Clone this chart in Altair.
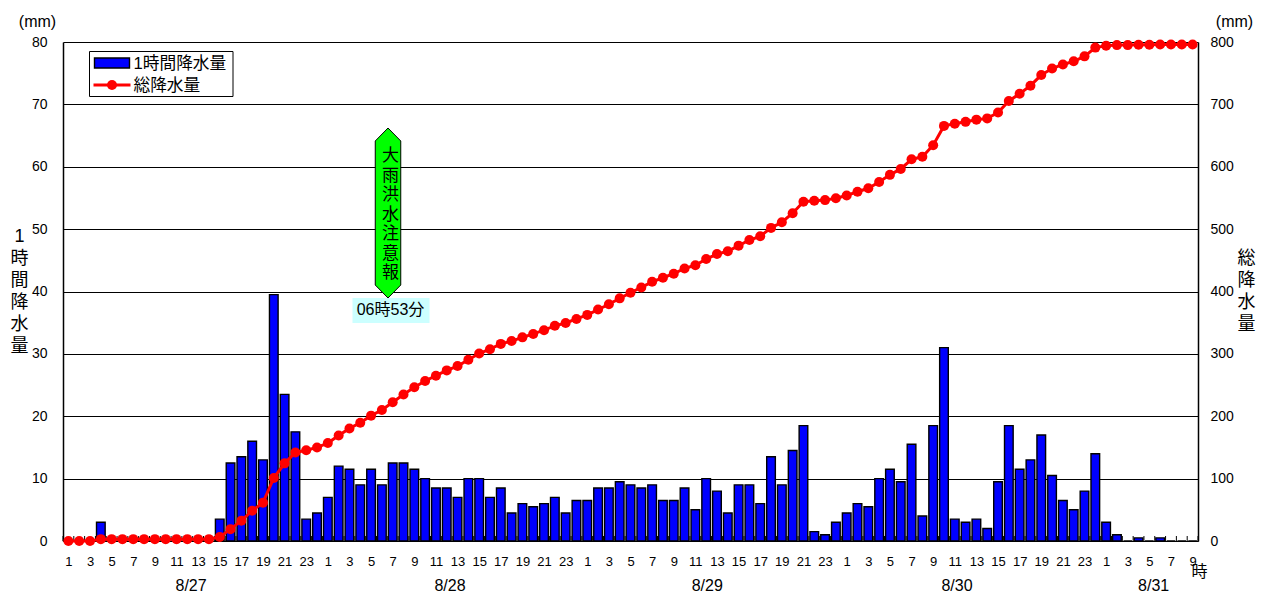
import altair as alt
import pandas as pd

hourly = [0,0,0,3,0,0,0,0,0,0,0,0,0,0,3.5,12.5,13.5,16,13,39.5,23.5,17.5,3.5,4.5,
          7,12,11.5,9,11.5,9,12.5,12.5,11.5,10,8.5,8.5,7,10,10,7,8.5,4.5,6,5.5,6,7,4.5,6.5,
          6.5,8.5,8.5,9.5,9,8.5,9,6.5,6.5,8.5,5,10,8,4.5,9,9,6,13.5,9,14.5,18.5,1.5,1,3,
          4.5,6,5.5,10,11.5,9.5,15.5,4,18.5,31,3.5,3,3.5,2,9.5,18.5,11.5,13,17,10.5,6.5,5,8,14,
          3,1,0,0.5,0,0.5,0,0,0]
total = [0,0,0,3,3,3,3,3,3,3,3,3,3,3,6.5,19,32.5,48.5,61.5,101,124.5,142,145.5,150,
         157,169,180.5,189.5,201,210,222.5,235,246.5,256.5,265,273.5,280.5,290.5,300.5,307.5,316,320.5,326.5,332,338,345,349.5,356,
         362.5,371,379.5,389,398,406.5,415.5,422,428.5,437,442,452,460,464.5,473.5,482.5,488.5,502,511,525.5,544,545.5,546.5,549.5,
         554,560,565.5,575.5,587,596.5,612,616,634.5,665.5,669,672,675.5,677.5,687,705.5,717,730,747,757.5,764,769,777,791,
         794,795,795,795.5,795.5,796,796,796,796]
dates = ["8/27", "8/28", "8/29", "8/30", "8/31"]
date_pos = [11.85, 35.8, 59.6, 82.7, 100.9]
legend_names = ["1時間降水量", "総降水量"]
warning_text = list("大雨洪水注意報")
warning_time = "06時53分"
left_title = list("1時間降水量")
right_title = list("総降水量")

W, H = 1135, 499
FONT = "Liberation Sans, Arial, Noto Sans CJK JP"
OX, OY = 63.5, 42  # page position of plot origin

def px(v): return alt.value(v - OX)
def py(v): return alt.value(v - OY)

n = len(hourly)
df = pd.DataFrame({
    "rain": hourly, "total": total,
    "x0": [i + 0.1 for i in range(n)],
    "x1": [i + 0.9 for i in range(n)],
    "xc": [i + 0.5 for i in range(n)],
    "base": [0] * n,
})
xs = alt.Scale(domain=[0, n], nice=False, zero=False)
one = pd.DataFrame({"a": [0]})

x_axis = alt.Axis(
    values=[i + 0.5 for i in range(0, n, 2)],
    labelExpr="((datum.value-0.5)%24)+1", title=None, tickSize=0, grid=False,
    labelFontSize=13, labelPadding=14, labelOverlap=False, labelFlush=False,
    domainColor="black", labelColor="black", labelFont=FONT)

ticks = alt.Chart(pd.DataFrame({"t": list(range(n + 1))})).mark_rule(color="black", strokeWidth=1).encode(
    x=alt.X("t:Q", scale=xs, axis=x_axis), y=alt.value(H), y2=alt.value(H - 5))

bars = alt.Chart(df).mark_rect(color="#0000ff", stroke="black", strokeWidth=1.4).encode(
    x=alt.X("x0:Q", scale=xs, axis=x_axis),
    x2="x1:Q",
    y=alt.Y("rain:Q", scale=alt.Scale(domain=[0, 80], nice=False), axis=alt.Axis(
        orient="left", values=list(range(0, 81, 10)), grid=True, gridColor="black", gridOpacity=1,
        tickSize=0, labelPadding=16, labelFontSize=14, labelColor="black", labelFont=FONT,
        domainColor="black", domainWidth=1.5,
        title=left_title, titleAngle=0, titleFont=FONT, titleFontSize=18, titleFontWeight="normal",
        titleLineHeight=22, titleX=-44, titleY=185.5, titleBaseline="top", titleAlign="center", titleColor="black")),
    y2="base:Q")

line = alt.Chart(df).mark_line(
    color="#ff0000", strokeWidth=3,
    point=alt.OverlayMarkDef(color="#ff0000", filled=True, size=100, opacity=1)).encode(
    x=alt.X("xc:Q", scale=xs, axis=x_axis),
    y=alt.Y("total:Q", scale=alt.Scale(domain=[0, 800], nice=False), axis=alt.Axis(
        orient="right", values=list(range(0, 801, 100)), grid=False,
        tickSize=0, labelPadding=12, labelFontSize=14, labelColor="black", labelFont=FONT,
        domainColor="black", domainWidth=1.5,
        title=right_title, titleAngle=0, titleFont=FONT, titleFontSize=18, titleFontWeight="normal",
        titleLineHeight=22, titleX=48, titleY=207, titleBaseline="top", titleAlign="center", titleColor="black")))

date_text = alt.Chart(pd.DataFrame({"d": dates, "p": date_pos})).mark_text(
    font=FONT, fontSize=16, color="black").encode(
    x=alt.X("p:Q", scale=xs, axis=x_axis), y=py(586), text="d:N")

def label(txt, x, y, size=14, align="center"):
    return alt.Chart(one).mark_text(text=txt, font=FONT, fontSize=size, color="black", align=align).encode(
        x=px(x), y=py(y))

# warning marker
W_TOP, W_BOT, W_X = 128, 298, 388.5
W_H = W_BOT - W_TOP
sw = 12.75 / (W_H / 2)
sh = 13 / (W_H / 2)
shape = f"M0,-1L{sw:.4f},{-1 + sh:.4f}L{sw:.4f},{1 - sh:.4f}L0,1L{-sw:.4f},{1 - sh:.4f}L{-sw:.4f},{-1 + sh:.4f}Z"
warn = alt.Chart(one).mark_point(shape=shape, size=W_H ** 2, filled=True, fill="#00ff00",
                                 stroke="black", strokeWidth=1, opacity=1).encode(
    x=px(W_X), y=py((W_TOP + W_BOT) / 2))
warn_txt = alt.Chart(one).mark_text(text=warning_text, font=FONT, fontSize=17, lineHeight=19.5,
                                    color="black", baseline="top", align="center").encode(
    x=px(391), y=py(148))
time_bg = alt.Chart(one).mark_rect(color="#ccffff").encode(
    x=px(353), x2=px(430), y=py(298), y2=py(323))
time_txt = label(warning_time, 391, 310, size=16)

# legend
lg_box = alt.Chart(one).mark_rect(fill="white", stroke="black", strokeWidth=1).encode(
    x=px(90), x2=px(233.5), y=py(51.5), y2=py(96.5))
lg_bar = alt.Chart(one).mark_rect(color="#0000ff", stroke="black", strokeWidth=1.4).encode(
    x=px(95), x2=px(130), y=py(58), y2=py(68))
lg_line = alt.Chart(one).mark_rule(color="#ff0000", strokeWidth=3).encode(
    x=px(94), x2=px(131), y=py(85))
lg_pt = alt.Chart(one).mark_point(color="#ff0000", filled=True, size=100, opacity=1).encode(
    x=px(112.5), y=py(85))
lg_t1 = label(legend_names[0], 134, 64, size=16.7, align="left")
lg_t2 = label(legend_names[1], 134, 86, size=16.7, align="left")

chart = alt.layer(
    bars, ticks, line, date_text,
    time_bg, warn, warn_txt, time_txt,
    lg_box, lg_bar, lg_line, lg_pt, lg_t1, lg_t2,
    label("(mm)", 38, 21.5, size=16), label("(mm)", 1235, 21.5, size=16),
    label("時", 1200, 572, size=16),
).resolve_scale(y="independent").properties(
    width=W, height=H,
    autosize=alt.AutoSizeParams(type="none"),
    padding={"left": 55, "top": 34, "right": 58, "bottom": 52},
).configure_view(stroke=None)

chart.save("out.html", embed_options={"renderer": "svg", "actions": False})
